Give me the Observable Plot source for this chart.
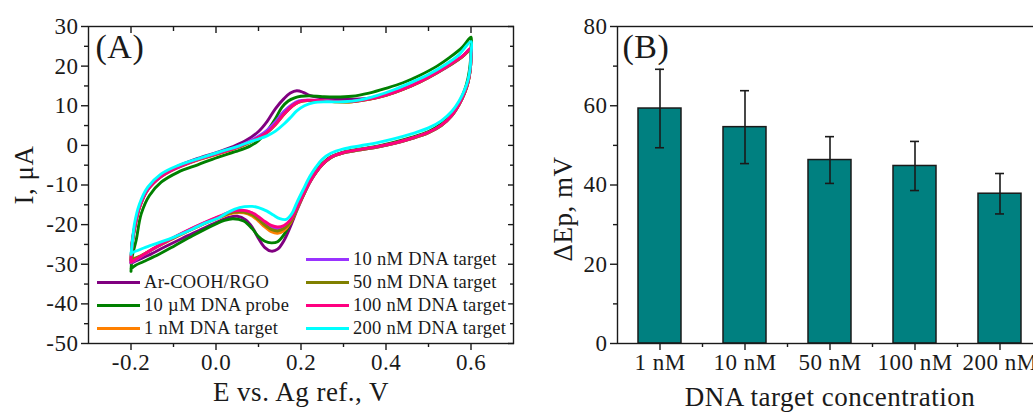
<!DOCTYPE html>
<html><head><meta charset="utf-8">
<script src="https://cdn.jsdelivr.net/npm/d3@7"></script>
<script src="https://cdn.jsdelivr.net/npm/@observablehq/plot@0.6"></script>
<style>
html,body{margin:0;padding:0;background:#fff;overflow:hidden;}
#wrap{position:relative;width:1033px;height:412px;overflow:hidden;font-family:"Liberation Serif","Times New Roman",serif;color:#1a1a1a;}
#wrap svg{position:absolute;top:0;}
.legend{position:absolute;font-size:18.5px;letter-spacing:0.3px;}
.legend .row{display:flex;align-items:center;height:23px;white-space:nowrap;}
.legend .key{width:43px;height:3px;margin-right:4px;flex:none;}
</style></head>
<body><div id="wrap"></div>
<script>
// ---------- Panel A data: cyclic voltammograms, [E (V), I (µA)] ----------
const seriesNames = ["Ar-COOH/RGO","10 µM DNA probe","1 nM DNA target","10 nM DNA target","50 nM DNA target","100 nM DNA target","200 nM DNA target"];

const cvArCOOH = [[-0.2,-29.5],[-0.197,-24],[-0.19,-19.8],[-0.18,-15.5],[-0.161,-11.1],[-0.129,-7.7],[-0.09,-5.3],[-0.043,-3.3],[0.004,-1.7],[0.04,-0.3],[0.07,1.2],[0.1,3.5],[0.12,6],[0.14,9.3],[0.16,11.8],[0.175,13.2],[0.19,13.8],[0.205,13.4],[0.22,12.6],[0.24,12.1],[0.27,11.8],[0.3,11.6],[0.34,11.7],[0.38,12.3],[0.42,13.5],[0.46,15.1],[0.5,17.1],[0.54,19.5],[0.57,21.6],[0.6,24],
 [0.6,22],[0.598,19],[0.593,16],[0.585,13.2],[0.572,10.3],[0.555,7.6],[0.53,5.1],[0.5,3.3],[0.46,1.8],[0.42,0.6],[0.38,-0.3],[0.34,-1],[0.3,-1.8],[0.27,-3],[0.25,-4.8],[0.235,-6.8],[0.22,-9.5],[0.205,-12.8],[0.19,-16.5],[0.175,-20.5],[0.16,-24],[0.145,-26.2],[0.13,-26.7],[0.115,-25.8],[0.1,-23.5],[0.085,-20.6],[0.07,-18.8],[0.05,-17.9],[0.03,-18.2],[0,-19.5],[-0.04,-21.5],[-0.08,-23.5],[-0.12,-25.6],[-0.16,-27.8],[-0.19,-29.2],[-0.2,-29.8]];

const cvProbe = [[-0.2,-31.8],[-0.197,-28],[-0.188,-24],[-0.176,-17.3],[-0.157,-12.7],[-0.129,-9.3],[-0.09,-6.8],[-0.043,-4.9],[0.004,-3],[0.045,-1.6],[0.08,-0.2],[0.1,1.2],[0.12,3.6],[0.14,6.8],[0.155,9.6],[0.17,11.2],[0.185,12],[0.2,12.4],[0.22,12.5],[0.25,12.3],[0.28,12.2],[0.32,12.4],[0.36,13.2],[0.4,14.4],[0.44,15.8],[0.48,17.7],[0.52,20],[0.55,22.2],[0.58,24.8],[0.6,27.3],
 [0.6,24.5],[0.598,20.5],[0.593,17],[0.585,14],[0.572,10.8],[0.555,7.9],[0.53,5.4],[0.5,3.5],[0.46,2],[0.42,0.8],[0.38,-0.2],[0.34,-0.9],[0.3,-1.7],[0.27,-2.9],[0.25,-4.6],[0.235,-6.6],[0.22,-9.2],[0.205,-12.3],[0.19,-16],[0.175,-19.5],[0.16,-22.5],[0.145,-24.3],[0.13,-24.6],[0.115,-24.2],[0.1,-23],[0.085,-21],[0.065,-19.1],[0.04,-18.5],[0.02,-18.9],[0,-19.8],[-0.055,-22.8],[-0.1,-25.5],[-0.133,-27.4],[-0.17,-29.3],[-0.19,-30.3],[-0.2,-31.2]];

const cv1nM = [[-0.2,-29.2],[-0.197,-24.6],[-0.19,-20.1],[-0.18,-15.7],[-0.161,-11.3],[-0.129,-7.9],[-0.09,-5.6],[-0.043,-3.7],[0.004,-2.2],[0.05,-0.6],[0.08,0.8],[0.1,1.9],[0.12,3.2],[0.14,5.2],[0.16,7.8],[0.18,9.9],[0.195,10.9],[0.215,11.3],[0.25,11.2],[0.28,11],[0.32,11],[0.36,11.6],[0.4,12.6],[0.44,14.1],[0.48,16],[0.52,18.3],[0.55,20.3],[0.58,22.4],[0.6,24.3],
 [0.6,21.8],[0.598,18.8],[0.593,15.8],[0.585,13.2],[0.572,10.3],[0.555,7.5],[0.53,5],[0.5,3.2],[0.46,1.7],[0.42,0.5],[0.38,-0.4],[0.34,-1.1],[0.3,-1.9],[0.27,-3.1],[0.25,-4.9],[0.235,-6.9],[0.22,-9.4],[0.205,-12.7],[0.19,-16.2],[0.175,-19.6],[0.16,-21.5],[0.145,-22.2],[0.13,-21.8],[0.115,-20.6],[0.1,-19.1],[0.085,-17.8],[0.065,-17],[0.04,-17.1],[0.01,-18.2],[-0.03,-19.9],[-0.07,-21.9],[-0.11,-24],[-0.15,-26.3],[-0.18,-28.1],[-0.2,-29]];

const cv10nM = [[-0.2,-29.3],[-0.197,-24.7],[-0.19,-20.2],[-0.18,-15.7],[-0.161,-11.3],[-0.129,-7.9],[-0.09,-5.6],[-0.043,-3.6],[0.004,-2],[0.05,-0.4],[0.08,1.1],[0.1,2.3],[0.12,3.8],[0.14,6],[0.16,8.6],[0.18,10.4],[0.195,11.2],[0.215,11.4],[0.25,11.3],[0.28,11.1],[0.32,11.1],[0.36,11.7],[0.4,12.7],[0.44,14.2],[0.48,16.1],[0.52,18.4],[0.55,20.4],[0.58,22.5],[0.6,24.4],
 [0.6,21.9],[0.598,18.9],[0.593,15.9],[0.585,13.3],[0.572,10.3],[0.555,7.5],[0.53,5],[0.5,3.2],[0.46,1.7],[0.42,0.5],[0.38,-0.4],[0.34,-1.1],[0.3,-1.9],[0.27,-3.1],[0.25,-4.9],[0.235,-6.9],[0.22,-9.4],[0.205,-12.6],[0.19,-16],[0.175,-19.1],[0.16,-20.7],[0.145,-21.1],[0.13,-20.6],[0.115,-19.5],[0.1,-18.2],[0.085,-17.1],[0.065,-16.5],[0.04,-16.7],[0.01,-17.9],[-0.03,-19.7],[-0.07,-21.7],[-0.11,-23.9],[-0.15,-26.3],[-0.18,-28.3],[-0.2,-29.6]];

const cv50nM = [[-0.2,-29],[-0.197,-24.5],[-0.19,-20],[-0.18,-15.6],[-0.161,-11.2],[-0.129,-7.8],[-0.09,-5.5],[-0.043,-3.6],[0.004,-2.1],[0.05,-0.6],[0.08,0.8],[0.1,1.9],[0.12,3.2],[0.14,5.3],[0.16,7.9],[0.18,10],[0.195,10.9],[0.215,11.3],[0.25,11.2],[0.28,11],[0.32,11],[0.36,11.6],[0.4,12.6],[0.44,14.1],[0.48,16],[0.52,18.3],[0.55,20.3],[0.58,22.4],[0.6,24.2],
 [0.6,21.8],[0.598,18.8],[0.593,15.8],[0.585,13.2],[0.572,10.3],[0.555,7.5],[0.53,5],[0.5,3.2],[0.46,1.7],[0.42,0.5],[0.38,-0.4],[0.34,-1.1],[0.3,-1.9],[0.27,-3.1],[0.25,-4.9],[0.235,-6.9],[0.22,-9.4],[0.205,-12.7],[0.19,-16.1],[0.175,-19.4],[0.16,-21],[0.145,-21.6],[0.13,-21.2],[0.115,-20.1],[0.1,-18.7],[0.085,-17.5],[0.065,-16.8],[0.04,-16.9],[0.01,-18],[-0.03,-19.8],[-0.07,-21.8],[-0.11,-23.9],[-0.15,-26.2],[-0.18,-28],[-0.2,-28.8]];

const cv100nM = [[-0.2,-29],[-0.197,-24.5],[-0.19,-20],[-0.18,-15.6],[-0.161,-11.2],[-0.129,-7.8],[-0.09,-5.5],[-0.043,-3.6],[0.004,-2.1],[0.05,-0.5],[0.08,0.9],[0.1,2],[0.12,3.3],[0.14,5.3],[0.16,7.9],[0.18,10],[0.195,11],[0.215,11.4],[0.25,11.3],[0.28,11.1],[0.32,11.1],[0.36,11.7],[0.4,12.7],[0.44,14.2],[0.48,16.1],[0.52,18.4],[0.55,20.4],[0.58,22.5],[0.6,24.5],
 [0.6,22],[0.598,19],[0.593,16],[0.585,13.4],[0.572,10.4],[0.555,7.6],[0.53,5.1],[0.5,3.3],[0.46,1.8],[0.42,0.6],[0.38,-0.3],[0.34,-1],[0.3,-1.8],[0.27,-3],[0.25,-4.8],[0.235,-6.8],[0.22,-9.3],[0.205,-12.5],[0.19,-15.8],[0.175,-18.8],[0.16,-20.2],[0.145,-20.6],[0.13,-20.2],[0.115,-19.2],[0.1,-18],[0.085,-17],[0.065,-16.4],[0.04,-16.6],[0.01,-17.8],[-0.03,-19.6],[-0.07,-21.6],[-0.11,-23.8],[-0.15,-26.2],[-0.18,-28.2],[-0.2,-29.5]];

const cv200nM = [[-0.2,-27.5],[-0.196,-23.5],[-0.192,-19.9],[-0.18,-14.8],[-0.161,-10.6],[-0.129,-7.2],[-0.09,-5.1],[-0.043,-3.4],[0.004,-1.8],[0.055,-0.1],[0.08,0.9],[0.1,1.6],[0.12,2.4],[0.14,3.6],[0.16,5.4],[0.176,7.1],[0.19,8.7],[0.208,10],[0.23,10.8],[0.26,11],[0.3,11],[0.34,11.5],[0.38,12.6],[0.42,14.1],[0.46,15.9],[0.5,17.9],[0.54,20.4],[0.57,22.7],[0.6,26.2],
 [0.6,23],[0.598,19.5],[0.593,16.5],[0.585,14],[0.572,11.2],[0.555,8.6],[0.53,6.2],[0.5,4.4],[0.46,2.9],[0.42,1.7],[0.38,0.7],[0.34,-0.1],[0.3,-0.9],[0.27,-2],[0.25,-3.5],[0.235,-5.5],[0.22,-8],[0.205,-11.2],[0.19,-14.5],[0.178,-17.3],[0.165,-18.7],[0.15,-18.5],[0.135,-17.6],[0.12,-16.6],[0.1,-15.7],[0.085,-15.4],[0.055,-15.7],[0.03,-16.8],[0.008,-18.2],[-0.03,-19.8],[-0.055,-21.1],[-0.1,-23.2],[-0.133,-24.5],[-0.17,-25.9],[-0.2,-27.2]];

const eTicks = [-0.2, 0, 0.2, 0.4, 0.6];
const eMinorTicks = [-0.1, 0.1, 0.3, 0.5];
const iTicks = [-50, -40, -30, -20, -10, 0, 10, 20, 30];
const iMinorTicks = [-45, -35, -25, -15, -5, 5, 15, 25];

// ---------- Panel B data ----------
const concentrations = ["1 nM", "10 nM", "50 nM", "100 nM", "200 nM"];
const deltaEp = [59.3, 54.6, 46.3, 44.8, 37.8];
const deltaEpErr = [9.9, 9.2, 5.9, 6.2, 5.1];
const dEpTicks = [0, 20, 40, 60, 80];
const dEpMinorTicks = [10, 30, 50, 70];

// ---------- styles ----------
const seriesColors = ["#800080", "#008000", "#ff8000", "#9933ff", "#808000", "#ff0080", "#00ffff"];
const ink = "#1a1a1a";
const font = "'Liberation Serif', 'Times New Roman', serif";

const curves = [cvArCOOH, cvProbe, cv1nM, cv10nM, cv50nM, cv100nM, cv200nM];
const cvTable = curves.flatMap((pts, k) => pts.map(([E, I]) => ({E, I, name: seriesNames[k]})));

const empty = () => "";
const svgStyle = {fontFamily: font, fontSize: "23px", letterSpacing: "0.5px", color: ink, background: "transparent", overflow: "visible"};

const plotA = Plot.plot({
  width: 530, height: 412,
  marginLeft: 88, marginRight: 17, marginTop: 26, marginBottom: 69,
  style: svgStyle,
  x: {domain: [-0.3, 0.7]},
  y: {domain: [-50, 30]},
  color: {domain: seriesNames, range: seriesColors},
  marks: [
    Plot.line(cvTable, {x: "E", y: "I", z: "name", stroke: "name", strokeWidth: 2.9, curve: "catmull-rom"}),
    Plot.frame({stroke: ink, strokeWidth: 1.4}),
    Plot.axisX(eTicks, {anchor: "bottom", tickSize: 7, tickPadding: 3, tickFormat: d => d.toFixed(1), label: null, strokeWidth: 1.4}),
    Plot.axisX(eMinorTicks, {anchor: "bottom", tickSize: 4, tickFormat: empty, label: null, strokeWidth: 1.4}),
    Plot.axisX(eTicks, {anchor: "top", tickSize: -6, tickFormat: empty, label: null, strokeWidth: 1.4}),
    Plot.axisX(eMinorTicks, {anchor: "top", tickSize: -4, tickFormat: empty, label: null, strokeWidth: 1.4}),
    Plot.axisY(iTicks, {anchor: "left", tickSize: 7, tickPadding: 3, tickFormat: d => String(d), label: null, strokeWidth: 1.4}),
    Plot.axisY(iMinorTicks, {anchor: "left", tickSize: 4, tickFormat: empty, label: null, strokeWidth: 1.4}),
    Plot.axisY(iTicks, {anchor: "right", tickSize: -6, tickFormat: empty, label: null, strokeWidth: 1.4}),
    Plot.axisY(iMinorTicks, {anchor: "right", tickSize: -4, tickFormat: empty, label: null, strokeWidth: 1.4}),
    Plot.text(["(A)"], {text: d => d, frameAnchor: "top-left", dx: 7, dy: 31, fontSize: 34, lineAnchor: "bottom", textAnchor: "start"}),
    Plot.text(["E vs. Ag ref., V"], {text: d => d, frameAnchor: "bottom", dy: 57, fontSize: 27, lineAnchor: "bottom", textAnchor: "middle"}),
    Plot.text(["I, μA"], {text: d => d, frameAnchor: "left", dx: -56, dy: -10, rotate: -90, fontSize: 27, lineAnchor: "bottom", textAnchor: "middle"})
  ]
});

const barData = concentrations.map((c, i) => ({c, v: deltaEp[i], e: deltaEpErr[i]}));
const stepB = 425 / concentrations.length;

const plotB = Plot.plot({
  width: 520, height: 412,
  marginLeft: 87, marginRight: 8, marginTop: 26, marginBottom: 69,
  style: svgStyle,
  x: {domain: concentrations, paddingInner: 0.5, paddingOuter: 0.25},
  y: {domain: [0, 80]},
  marks: [
    Plot.barY(barData, {x: "c", y: "v", fill: "#008080", stroke: ink, strokeWidth: 1.5}),
    Plot.ruleX(barData, {x: "c", y1: d => d.v - d.e, y2: d => d.v + d.e, stroke: ink, strokeWidth: 1.6}),
    Plot.tickY(barData, {x: "c", y: d => d.v + d.e, stroke: ink, strokeWidth: 1.6, inset: 17}),
    Plot.tickY(barData, {x: "c", y: d => d.v - d.e, stroke: ink, strokeWidth: 1.6, inset: 17}),
    Plot.frame({stroke: ink, strokeWidth: 1.4}),
    Plot.axisX(concentrations, {anchor: "bottom", tickSize: 7, tickPadding: 3, label: null, strokeWidth: 1.4}),
    Plot.axisX(concentrations.slice(0, -1), {anchor: "bottom", tickSize: 4, dx: stepB / 2, tickFormat: empty, label: null, strokeWidth: 1.4}),
    Plot.axisY(dEpTicks, {anchor: "left", tickSize: 7, tickPadding: 3, label: null, strokeWidth: 1.4}),
    Plot.axisY(dEpMinorTicks, {anchor: "left", tickSize: 4, tickFormat: empty, label: null, strokeWidth: 1.4}),
    Plot.text(["(B)"], {text: d => d, frameAnchor: "top-left", dx: 5, dy: 31, fontSize: 34, lineAnchor: "bottom", textAnchor: "start"}),
    Plot.text(["DNA target concentration"], {text: d => d, frameAnchor: "bottom", dy: 62, fontSize: 27, lineAnchor: "bottom", textAnchor: "middle"}),
    Plot.text(["ΔEp, mV"], {text: d => d, frameAnchor: "left", dx: -46, dy: 24, rotate: -90, fontSize: 27, lineAnchor: "bottom", textAnchor: "middle"})
  ]
});

const wrap = document.getElementById("wrap");
plotA.style.left = "0px";
plotB.style.left = "530px";
wrap.appendChild(plotA);
wrap.appendChild(plotB);

// legend (two columns inside panel A)
function legendColumn(indices, left, top) {
  const div = document.createElement("div");
  div.className = "legend";
  div.style.left = left + "px";
  div.style.top = top + "px";
  for (const k of indices) {
    const row = document.createElement("div");
    row.className = "row";
    const key = document.createElement("span");
    key.className = "key";
    key.style.background = seriesColors[k];
    const label = document.createElement("span");
    label.textContent = seriesNames[k];
    row.appendChild(key);
    row.appendChild(label);
    div.appendChild(row);
  }
  wrap.appendChild(div);
}
legendColumn([0, 1, 2], 97, 271);
legendColumn([3, 4, 5, 6], 306, 248);
</script></body></html>
